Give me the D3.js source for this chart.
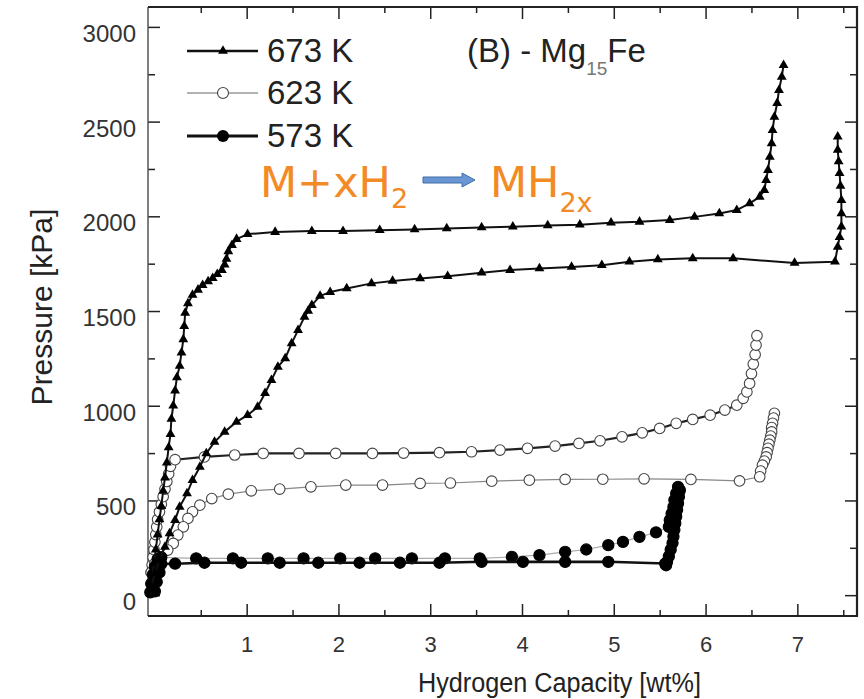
<!DOCTYPE html>
<html>
<head>
<meta charset="utf-8">
<script src="https://cdn.jsdelivr.net/npm/d3@7"></script>
<style>
  body { margin: 0; background: #fff; }
  svg { display: block; font-family: "Liberation Sans", Arial, sans-serif; }
</style>
</head>
<body>
<svg id="chart" width="864" height="699"></svg>
<script>
/*
  PCT isotherms of Mg15Fe, absorption and desorption at three temperatures.
*/

// Tick values.
let xMajorTicks = [1, 2, 3, 4, 5, 6, 7];
let xMinorTicks = [0.5, 1.5, 2.5, 3.5, 4.5, 5.5, 6.5, 7.5];
let yMajorTicks = [0, 500, 1000, 1500, 2000, 2500, 3000];
let yMinorTicks = [250, 750, 1250, 1750, 2250, 2750];

// 673 K, absorption (upper) and desorption (lower) branches: [wt%, kPa]
let abs673 = [
    [-0.05, 20], [-0.03, 90], [-0.01, 170], [0.01, 240], [0.03, 320], [0.05, 400],
    [0.07, 470], [0.09, 550], [0.11, 620], [0.13, 700], [0.15, 780], [0.17, 850],
    [0.18, 930], [0.20, 1000], [0.22, 1080], [0.24, 1150], [0.27, 1210], [0.29, 1280],
    [0.31, 1350], [0.32, 1420], [0.33, 1490], [0.36, 1540], [0.41, 1585], [0.47, 1612],
    [0.52, 1637], [0.58, 1656], [0.63, 1674], [0.68, 1695], [0.73, 1716], [0.76, 1745],
    [0.78, 1775], [0.80, 1815], [0.84, 1848], [0.89, 1880], [1.01, 1906], [1.31, 1917],
    [1.71, 1922], [2.05, 1922], [2.45, 1927], [2.83, 1931], [3.18, 1936], [3.56, 1941],
    [3.90, 1945], [4.28, 1952], [4.63, 1956], [4.97, 1966], [5.28, 1971], [5.61, 1980],
    [5.88, 1997], [6.15, 2015], [6.34, 2033], [6.48, 2068], [6.59, 2103], [6.64, 2138],
    [6.66, 2191], [6.68, 2244], [6.70, 2314], [6.72, 2385], [6.73, 2455], [6.75, 2525],
    [6.78, 2597], [6.80, 2666], [6.83, 2736], [6.85, 2798]
];
let des673 = [
    [7.44, 2420], [7.44, 2350], [7.45, 2290], [7.46, 2228], [7.47, 2160], [7.48, 2085],
    [7.48, 2015], [7.48, 1945], [7.46, 1890], [7.44, 1839], [7.41, 1760], [6.97, 1754],
    [6.30, 1778], [5.86, 1778], [5.48, 1772], [5.17, 1760], [4.87, 1742], [4.54, 1733],
    [4.19, 1725], [3.87, 1716], [3.56, 1702], [3.19, 1684], [2.89, 1672], [2.59, 1659],
    [2.36, 1646], [2.09, 1619], [1.91, 1600], [1.80, 1580], [1.71, 1531], [1.67, 1500],
    [1.63, 1469], [1.56, 1399], [1.49, 1329], [1.42, 1250], [1.34, 1205], [1.27, 1135],
    [1.20, 1066], [1.12, 994], [1.01, 950], [0.89, 915], [0.76, 862], [0.65, 809],
    [0.56, 748], [0.49, 677], [0.41, 607], [0.35, 537], [0.27, 466], [0.22, 396],
    [0.16, 326], [0.11, 255], [0.05, 185], [0.00, 115], [-0.04, 44]
];

// 623 K
let abs623 = [
    [-0.04, 120], [-0.03, 160], [-0.02, 200], [-0.01, 240], [0.00, 280], [0.01, 320],
    [0.02, 360], [0.03, 400], [0.05, 440], [0.07, 480], [0.09, 520], [0.11, 560],
    [0.13, 600], [0.15, 640], [0.17, 680], [0.22, 715], [0.54, 730], [0.87, 740],
    [1.18, 748], [1.57, 748], [1.97, 748], [2.37, 748], [2.71, 750], [3.10, 752],
    [3.45, 757], [3.76, 766], [4.06, 775], [4.36, 787], [4.62, 801], [4.85, 815],
    [5.09, 836], [5.31, 857], [5.50, 880], [5.68, 907], [5.86, 928], [6.05, 950],
    [6.21, 977], [6.34, 1003], [6.41, 1039], [6.45, 1073], [6.48, 1118], [6.50, 1170],
    [6.52, 1220], [6.54, 1270], [6.55, 1320], [6.56, 1370]
];
let des623 = [
    [6.75, 960], [6.74, 935], [6.73, 907], [6.72, 885], [6.72, 862], [6.71, 840],
    [6.70, 818], [6.69, 797], [6.68, 775], [6.67, 752], [6.66, 730], [6.64, 708],
    [6.62, 686], [6.60, 655], [6.59, 625], [6.37, 603], [5.84, 611], [5.33, 614],
    [4.88, 612], [4.47, 611], [4.08, 607], [3.67, 602], [3.22, 592], [2.89, 590],
    [2.48, 581], [2.08, 581], [1.70, 572], [1.36, 560], [1.05, 551], [0.80, 533],
    [0.62, 510], [0.49, 475], [0.41, 440], [0.36, 405], [0.31, 361], [0.25, 317],
    [0.20, 273], [0.14, 238], [0.07, 202], [0.00, 167], [-0.04, 120]
];

// 573 K
let abs573 = [
    [-0.05, 15], [-0.04, 60], [-0.02, 110], [0.00, 150], [0.03, 190], [0.07, 200],
    [0.45, 194], [0.85, 194], [1.23, 194], [1.62, 194], [2.02, 194], [2.40, 194],
    [2.80, 194], [3.16, 194], [3.54, 194], [3.89, 202], [4.19, 211], [4.47, 229],
    [4.70, 241], [4.94, 264], [5.10, 281], [5.28, 308], [5.46, 331], [5.60, 361],
    [5.61, 396], [5.63, 431], [5.65, 466], [5.66, 502], [5.68, 537], [5.70, 572]
];
let des573 = [
    [5.72, 554], [5.71, 520], [5.70, 485], [5.69, 450], [5.68, 415], [5.67, 380],
    [5.66, 345], [5.65, 310], [5.64, 275], [5.62, 240], [5.60, 205], [5.58, 175],
    [5.57, 158], [5.56, 167], [4.94, 176], [4.47, 176], [4.01, 176], [3.56, 176],
    [3.10, 171], [2.67, 171], [2.23, 171], [1.78, 171], [1.36, 171], [0.94, 171],
    [0.54, 171], [0.22, 166], [0.07, 165], [0.05, 120], [0.02, 70], [0.00, 20]
];

let legendLabels = ['673 K', '623 K', '573 K'];

let svg = d3.select('#chart');

let x = d3.scaleLinear().domain([-0.075, 7.65]).range([148, 857]);
let y = d3.scaleLinear().domain([-110, 3105]).range([616, 7]);

// Axes, ticks pointing inward on all four sides
const tickStyle = (g) => {
    g.select('.domain').remove();
    g.selectAll('.tick line').attr('stroke', '#222').attr('stroke-width', 1.5);
};

svg.append('g')
    .attr('transform', 'translate(0,616)')
    .call(d3.axisBottom(x).tickValues(xMajorTicks).tickSize(-12).tickPadding(20).tickFormat(d3.format('d')))
    .call(tickStyle)
    .call(g => g.selectAll('text').attr('font-size', 22).attr('fill', '#333')
        .attr('font-family', '"Liberation Sans", Arial, sans-serif'));
svg.append('g')
    .attr('transform', 'translate(0,616)')
    .call(d3.axisBottom(x).tickValues(xMinorTicks).tickSize(-6).tickFormat(''))
    .call(tickStyle);
svg.append('g')
    .attr('transform', 'translate(0,7)')
    .call(d3.axisTop(x).tickValues(xMajorTicks).tickSize(-12).tickFormat(''))
    .call(tickStyle);
svg.append('g')
    .attr('transform', 'translate(0,7)')
    .call(d3.axisTop(x).tickValues(xMinorTicks).tickSize(-6).tickFormat(''))
    .call(tickStyle);

svg.append('g')
    .attr('transform', 'translate(148,0)')
    .call(d3.axisLeft(y).tickValues(yMajorTicks).tickSize(-12).tickPadding(12).tickFormat(d3.format('d')))
    .call(tickStyle)
    .call(g => g.selectAll('text').attr('font-size', 24).attr('fill', '#333').attr('dy', '0.6em')
        .attr('font-family', '"Liberation Sans", Arial, sans-serif'));
svg.append('g')
    .attr('transform', 'translate(148,0)')
    .call(d3.axisLeft(y).tickValues(yMinorTicks).tickSize(-7).tickFormat(''))
    .call(tickStyle);
svg.append('g')
    .attr('transform', 'translate(857,0)')
    .call(d3.axisRight(y).tickValues(yMajorTicks).tickSize(-12).tickFormat(''))
    .call(tickStyle);
svg.append('g')
    .attr('transform', 'translate(857,0)')
    .call(d3.axisRight(y).tickValues(yMinorTicks).tickSize(-7).tickFormat(''))
    .call(tickStyle);

// frame
svg.append('line').attr('x1', 148).attr('x2', 148).attr('y1', 7).attr('y2', 616)
    .attr('stroke', '#555').attr('stroke-width', 1.5);
svg.append('path').attr('d', 'M148,616H857V7H148')
    .attr('fill', 'none').attr('stroke', '#222').attr('stroke-width', 2.2);

// axis titles
svg.append('text')
    .attr('x', 418).attr('y', 692)
    .attr('font-size', 27).attr('fill', '#222')
    .attr('textLength', 283).attr('lengthAdjust', 'spacingAndGlyphs')
    .text('Hydrogen Capacity [wt%]');
svg.append('text')
    .attr('transform', 'translate(52,307) rotate(-90)')
    .attr('text-anchor', 'middle')
    .attr('font-size', 30).attr('fill', '#222')
    .text('Pressure [kPa]');

// series drawing
let line = d3.line().x(d => x(d[0])).y(d => y(d[1]));
let plot = svg.append('g');

const drawLine = (data, color, width) => {
    plot.append('path')
        .datum(data)
        .attr('d', line)
        .attr('fill', 'none')
        .attr('stroke', color)
        .attr('stroke-width', width)
        .attr('stroke-linejoin', 'round');
};

const drawCircles = (data, r, fill, stroke) => {
    plot.append('g').selectAll('circle')
        .data(data)
        .enter().append('circle')
        .attr('cx', d => x(d[0]))
        .attr('cy', d => y(d[1]))
        .attr('r', r)
        .attr('fill', fill)
        .attr('stroke', stroke)
        .attr('stroke-width', 1.1);
};

let triangle = d3.symbol().type(d3.symbolTriangle).size(42);
const drawTriangles = (data) => {
    plot.append('g').selectAll('path')
        .data(data)
        .enter().append('path')
        .attr('d', triangle)
        .attr('transform', d => 'translate(' + x(d[0]) + ',' + y(d[1]) + ')')
        .attr('fill', '#000');
};

// 623 K
drawLine(abs623, '#222', 2.2);
drawCircles(abs623, 5.3, '#fff', '#444');
drawLine(des623, '#888', 1.2);
drawCircles(des623, 5.3, '#fff', '#444');

// 573 K
drawLine(abs573, '#aaa', 1.2);
drawCircles(abs573, 5.6, '#000', '#000');
drawLine(des573, '#111', 2.6);
drawCircles(des573, 5.6, '#000', '#000');

// 673 K
drawLine(abs673, '#111', 2);
drawTriangles(abs673);
drawLine(des673, '#111', 2);
drawTriangles(des673);

// legend
let legend = svg.append('g');
let rows = [51, 93, 136];
legend.append('line').attr('x1', 187).attr('x2', 258).attr('y1', rows[0]).attr('y2', rows[0])
    .attr('stroke', '#111').attr('stroke-width', 2.5);
legend.append('path').attr('d', triangle).attr('transform', 'translate(223,' + rows[0] + ')');
legend.append('line').attr('x1', 187).attr('x2', 258).attr('y1', rows[1]).attr('y2', rows[1])
    .attr('stroke', '#999').attr('stroke-width', 1.5);
legend.append('circle').attr('cx', 223).attr('cy', rows[1]).attr('r', 5.5)
    .attr('fill', '#fff').attr('stroke', '#444').attr('stroke-width', 1.1);
legend.append('line').attr('x1', 187).attr('x2', 258).attr('y1', rows[2]).attr('y2', rows[2])
    .attr('stroke', '#111').attr('stroke-width', 3);
legend.append('circle').attr('cx', 223).attr('cy', rows[2]).attr('r', 6).attr('fill', '#000');
legend.selectAll('text.lab')
    .data(legendLabels)
    .enter().append('text')
    .attr('class', 'lab')
    .attr('x', 267)
    .attr('y', (d, i) => rows[i] + 11)
    .attr('font-size', 33)
    .attr('fill', '#222')
    .text(d => d);

// panel title
let title = svg.append('text').attr('x', 467).attr('y', 62).attr('font-size', 33).attr('fill', '#222');
title.append('tspan').text('(B) - Mg');
title.append('tspan').attr('dy', 13).attr('font-size', 19).attr('fill', '#777').text('15');
title.append('tspan').attr('dy', -13).text('Fe');

// reaction annotation
const orange = '#f28a26';
let r1 = svg.append('text').attr('x', 260).attr('y', 197)
    .attr('font-family', '"DejaVu Sans", sans-serif').attr('font-size', 43).attr('fill', orange);
r1.append('tspan').text('M+xH');
r1.append('tspan').attr('dy', 11).attr('font-size', 27).text('2');

let r2 = svg.append('text').attr('x', 490).attr('y', 197)
    .attr('font-family', '"DejaVu Sans", sans-serif').attr('font-size', 43).attr('fill', orange);
r2.append('tspan').text('MH');
r2.append('tspan').attr('dy', 15).attr('font-size', 27).text('2x');

svg.append('path')
    .attr('d', 'M423,177H462V173L475,180L462,187V183H423Z')
    .attr('fill', '#6a96d4')
    .attr('stroke', '#3f6eaa')
    .attr('stroke-width', 1);
</script>
</body>
</html>
